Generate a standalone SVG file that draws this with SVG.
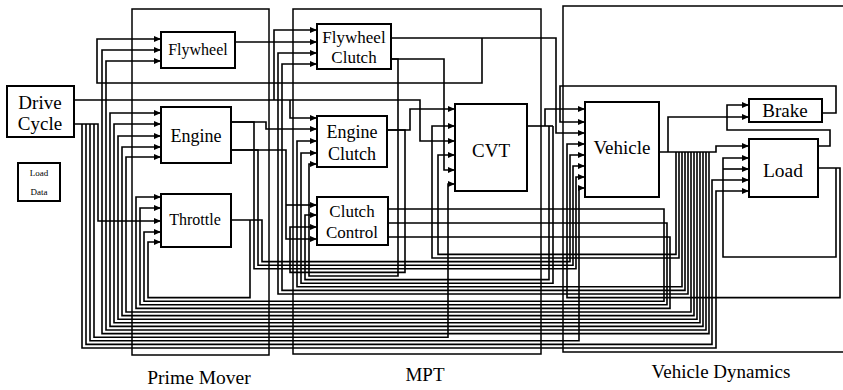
<svg xmlns="http://www.w3.org/2000/svg" width="843" height="390" viewBox="0 0 843 390">
<style>
.sub{fill:none;stroke:#000;stroke-width:1.5}
.b{fill:#fff;stroke:#000;stroke-width:2}
.w{fill:none;stroke:#000;stroke-width:1.6}
.wa{fill:none;stroke:#000;stroke-width:1.6;marker-end:url(#a)}
text{font-family:'Liberation Serif', serif;fill:#000;text-anchor:middle}
</style>
<defs>
<marker id="a" markerWidth="7" markerHeight="7" refX="7" refY="3.5" orient="auto" markerUnits="userSpaceOnUse"><path d="M0,0.5 L7,3.5 L0,6.5 z" fill="#000"/></marker>
</defs>
<rect width="843" height="390" fill="#fff"/>
<g id="subsystems">
<rect class="sub" x="132" y="9" width="137" height="346"/>
<rect class="sub" x="293" y="9" width="248" height="345"/>
<path class="sub" d="M843,6 H563 V352 H843"/>
<text x="199" y="384" font-size="19.5" font-family="Liberation Serif, serif">Prime Mover</text>
<text x="425" y="381" font-size="19" font-family="Liberation Serif, serif">MPT</text>
<text x="721" y="378" font-size="19" font-family="Liberation Serif, serif">Vehicle Dynamics</text>
</g>
<g id="connectors">
<path class="wa" d="M74,100 H420 V141 H455"/>
<path class="wa" d="M274,100 V30 H317"/>
<path class="wa" d="M290,100 V118 H317"/>
<path class="wa" d="M74,124 H98 V221 H161"/>
<path class="wa" d="M82,124 V348 H716 V191 H749"/>
<path class="wa" d="M86,124 V344.4 H712 V180 H749"/>
<path class="wa" d="M90,124 V340.8 H579 V188 H585"/>
<path class="wa" d="M94,124 V337.2 H448 V184 H455"/>
<path class="wa" d="M709,152 V333.6 H102 V50 H161"/>
<path class="wa" d="M706,152 V330 H106 V61 H161"/>
<path class="wa" d="M703,152 V326.4 H110 V113 H161"/>
<path class="wa" d="M700,152 V322.8 H114 V124 H161"/>
<path class="wa" d="M697,152 V319.2 H118 V136 H161"/>
<path class="wa" d="M694,152 V315.6 H122 V147 H161"/>
<path class="wa" d="M691,152 V312 H126 V157 H161"/>
<path class="wa" d="M388,237 H670 V308.4 H136 V197 H161"/>
<path class="wa" d="M388,223 H667 V304.8 H140 V208 H161"/>
<path class="wa" d="M388,209 H664 V301.2 H144 V232 H161"/>
<path class="wa" d="M231,220 H262 V261.6 H570 V155 H585"/>
<path class="wa" d="M250,220 V297.6 H148 V242 H161"/>
<path class="wa" d="M688,152 V294 H278 V53 H317"/>
<path class="wa" d="M685,152 V290.4 H282 V64 H317"/>
<path class="wa" d="M682,152 V286.8 H297 V141 H317"/>
<path class="wa" d="M553,126 V283.2 H301 V153 H317"/>
<path class="wa" d="M549,126 V279.6 H305 V215 H317"/>
<path class="wa" d="M391,59 H398 V276 H309 V164 H317"/>
<path class="wa" d="M387,130 H405 V272.4 H290 V227 H317"/>
<path class="wa" d="M231,122 H254 V268.8 H576 V177 H585"/>
<path class="wa" d="M231,150 H258 V265.2 H573 V166 H585"/>
<path class="wa" d="M679,152 V258 H432 V126 H455"/>
<path class="wa" d="M676,152 V254.4 H438 V155 H455"/>
<path class="wa" d="M231,122 H266 V129 H317"/>
<path class="wa" d="M231,150 H286 V239 H317"/>
<path class="wa" d="M286,205 H317"/>
<path class="wa" d="M235,42 H317"/>
<path class="wa" d="M391,38 H556 V133 H585"/>
<path class="wa" d="M482,38 V83 H97 V39 H161"/>
<path class="wa" d="M391,59 H444 V170 H455"/>
<path class="wa" d="M387,130 H410 V109 H455"/>
<path class="w" d="M527,126 H553"/>
<path class="wa" d="M545,126 V109 H585"/>
<path class="wa" d="M822,113 H836 V86 H560 V122 H585"/>
<path class="wa" d="M818,168 H840 V297.6 H567 V144 H585"/>
<path class="wa" d="M818,146 H830 V130 H727 V105 H749"/>
<path class="wa" d="M668,152 V117 H749"/>
<path class="wa" d="M659,152 H716 V146 H749"/>
<path class="wa" d="M836,168 V257 H723 V158 H749"/>
<path class="wa" d="M723,169 H749"/>
</g>
<g id="drive-cycle"><rect class="b" x="7" y="86" width="67" height="51"/><text x="40" y="109" font-size="19" font-family="Liberation Serif, serif">Drive</text><text x="40" y="130" font-size="19" font-family="Liberation Serif, serif">Cycle</text></g>
<g id="load-data"><rect class="b" x="18" y="163" width="42" height="38"/><text x="39" y="176" font-size="9" font-family="Liberation Serif, serif">Load</text><text x="39" y="195" font-size="9" font-family="Liberation Serif, serif">Data</text></g>
<g id="flywheel"><rect class="b" x="161" y="32" width="74" height="36"/><text x="198" y="55" font-size="16" font-family="Liberation Serif, serif">Flywheel</text></g>
<g id="engine"><rect class="b" x="161" y="107" width="70" height="56"/><text x="196" y="142" font-size="18" font-family="Liberation Serif, serif">Engine</text></g>
<g id="throttle"><rect class="b" x="161" y="194" width="70" height="53"/><text x="195" y="225" font-size="16" font-family="Liberation Serif, serif">Throttle</text></g>
<g id="flywheel-clutch"><rect class="b" x="317" y="24" width="74" height="45"/><text x="354" y="43" font-size="17" font-family="Liberation Serif, serif">Flywheel</text><text x="354" y="63" font-size="17" font-family="Liberation Serif, serif">Clutch</text></g>
<g id="engine-clutch"><rect class="b" x="317" y="116" width="70" height="51"/><text x="352" y="138" font-size="18" font-family="Liberation Serif, serif">Engine</text><text x="352" y="160" font-size="18" font-family="Liberation Serif, serif">Clutch</text></g>
<g id="cvt"><rect class="b" x="455" y="104" width="72" height="87"/><text x="491" y="157" font-size="19" font-family="Liberation Serif, serif">CVT</text></g>
<g id="clutch-control"><rect class="b" x="317" y="197" width="71" height="48"/><text x="352" y="217" font-size="17" font-family="Liberation Serif, serif">Clutch</text><text x="352" y="238" font-size="17" font-family="Liberation Serif, serif">Control</text></g>
<g id="vehicle"><rect class="b" x="585" y="102" width="74" height="95"/><text x="622" y="154" font-size="19" font-family="Liberation Serif, serif">Vehicle</text></g>
<g id="brake"><rect class="b" x="749" y="99" width="73" height="23"/><text x="785" y="117" font-size="19" font-family="Liberation Serif, serif">Brake</text></g>
<g id="load"><rect class="b" x="749" y="139" width="69" height="58"/><text x="783" y="177" font-size="19.5" font-family="Liberation Serif, serif">Load</text></g>
</svg>
